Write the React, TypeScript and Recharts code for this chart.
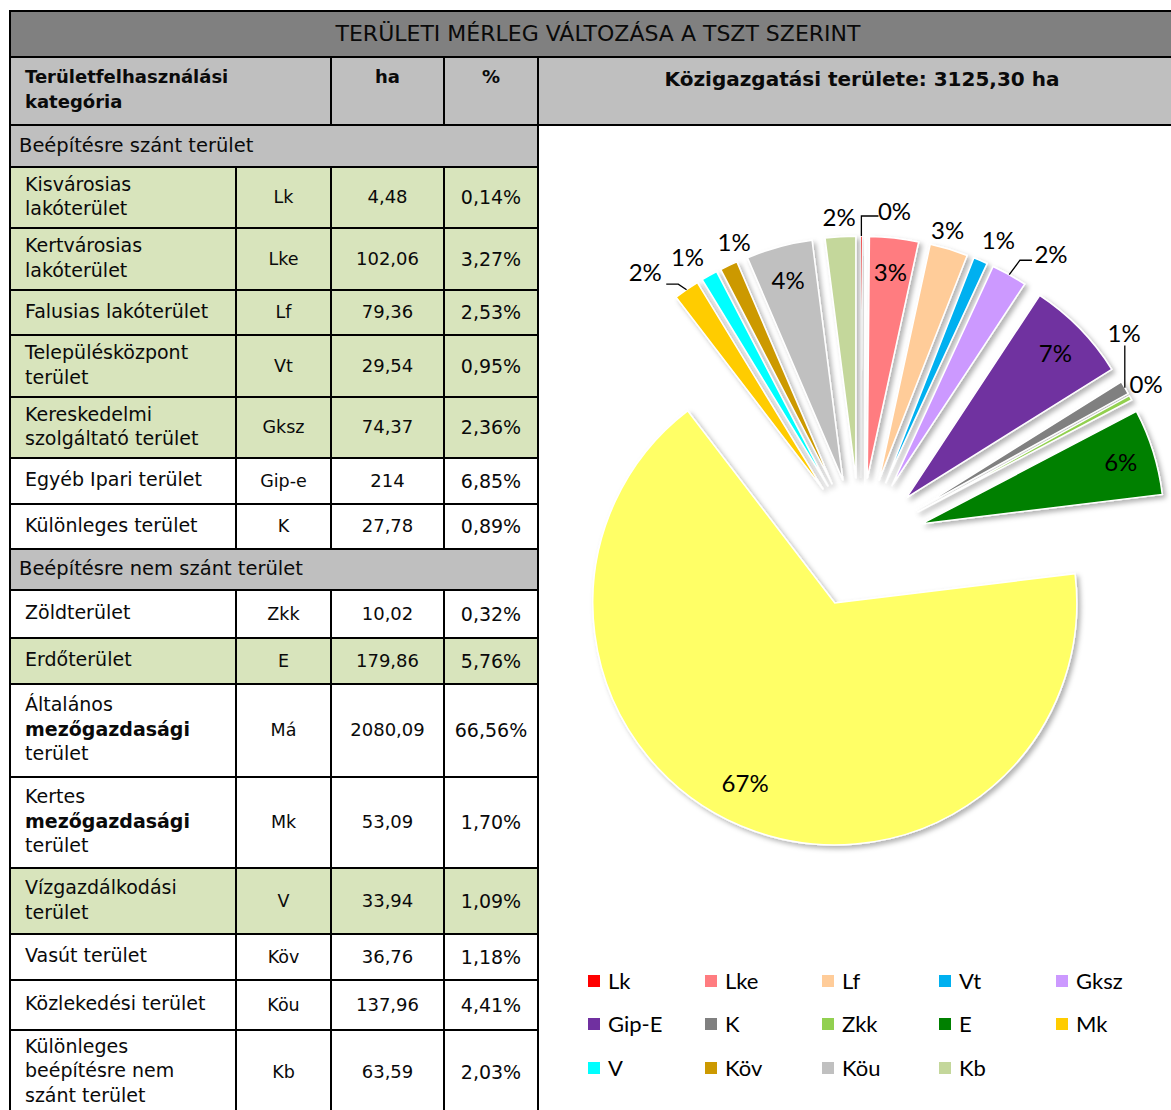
import React from "react";
import { PieChart, Pie, Cell, Legend, Sector } from "recharts";

// pie series, clockwise from 12 o'clock
const PIE_CODES = ["Lk", "Lke", "Lf", "Vt", "Gksz", "Gip-E", "K", "Zkk", "E", "Má", "Mk", "V", "Köv", "Köu", "Kb"];
const PIE_HA = [4.48, 102.06, 79.36, 29.54, 74.37, 214, 27.78, 10.02, 179.86, 2080.09, 53.09, 33.94, 36.76, 137.96, 63.59];
const PIE_COLORS = [
  "#FF0000", "#FF7C80", "#FFCC99", "#00B0F0", "#CC99FF",
  "#7030A0", "#808080", "#92D050", "#008000", "#FFFF66",
  "#FFCC00", "#00FFFF", "#CC9900", "#C0C0C0", "#C4D79B",
];
const LEGEND_HIDDEN = ["Má"];

// table texts
const TITLE = "TERÜLETI MÉRLEG VÁLTOZÁSA A TSZT SZERINT";
const HEAD_CATEGORY = ["Területfelhasználási", "kategória"];
const HEAD_HA = "ha";
const HEAD_PCT = "%";
const TOTAL_TEXT = "Közigazgatási területe: 3125,30 ha";
const SECTIONS = ["Beépítésre szánt terület", "Beépítésre nem szánt terület"];
const ROW_SECTION = [0, 0, 0, 0, 0, 0, 0, 1, 1, 1, 1, 1, 1, 1, 1];
const ROW_NAMES = [
  ["Kisvárosias", "lakóterület"],
  ["Kertvárosias", "lakóterület"],
  ["Falusias lakóterület"],
  ["Településközpont", "terület"],
  ["Kereskedelmi", "szolgáltató terület"],
  ["Egyéb Ipari terület"],
  ["Különleges terület"],
  ["Zöldterület"],
  ["Erdőterület"],
  ["Általános", "mezőgazdasági", "terület"],
  ["Kertes", "mezőgazdasági", "terület"],
  ["Vízgazdálkodási", "terület"],
  ["Vasút terület"],
  ["Közlekedési terület"],
  ["Különleges", "beépítésre nem", "szánt terület"],
];
const ROW_CODES = ["Lk", "Lke", "Lf", "Vt", "Gksz", "Gip-e", "K", "Zkk", "E", "Má", "Mk", "V", "Köv", "Köu", "Kb"];
const ROW_HA = ["4,48", "102,06", "79,36", "29,54", "74,37", "214", "27,78", "10,02", "179,86", "2080,09", "53,09", "33,94", "36,76", "137,96", "63,59"];
const ROW_PCT = ["0,14%", "3,27%", "2,53%", "0,95%", "2,36%", "6,85%", "0,89%", "0,32%", "5,76%", "66,56%", "1,70%", "1,09%", "1,18%", "4,41%", "2,03%"];
const ROW_GREEN = [true, true, true, true, true, false, false, false, true, false, false, true, false, false, false];
const BOLD_LINES = ["mezőgazdasági"];

// layout
const COL_X = [10, 236, 331, 444, 538, 1186];
const SECTION_H = [42, 41];
const ROW_H = [61, 62, 45, 62, 61, 46, 45, 48, 46, 93, 91, 66, 46, 50, 84];
const GREEN = "#D8E4BC";
const GRAY = "#BFBFBF";
const DARK = "#808080";
const TABLE_FONT = "'DejaVu Sans', sans-serif";
const CHART_FONT = "Lato, 'Open Sans', sans-serif";

const RAD = Math.PI / 180;
const EXPLODE = 65;
const LABEL_NUDGE: Record<string, [number, number]> = {
  Lk: [33, -6],
  Lf: [-7, -1],
  Vt: [10, -3],
  Gksz: [32, -4],
  K: [-18, -45],
  Zkk: [-2, -5],
  Mk: [-30, -2],
  V: [-12, -2],
  Köv: [14, -6],
  Má: [-9, -12],
};

const polar = (cx: number, cy: number, r: number, a: number) => [
  cx + r * Math.cos(-a * RAD),
  cy + r * Math.sin(-a * RAD),
];

function Box({ x1, x2, y1, y2, bg, children, style }: any) {
  return (
    <div
      style={{
        position: "absolute",
        left: x1 - 1,
        top: y1 - 1,
        width: x2 - x1 + 2,
        height: y2 - y1 + 2,
        border: "2px solid #000",
        boxSizing: "border-box",
        background: bg,
        display: "flex",
        whiteSpace: "nowrap",
        ...style,
      }}
    >
      {children}
    </div>
  );
}

function Lines({ lines }: { lines: string[] }) {
  return (
    <div>
      {lines.map((l) => (
        <div key={l} style={{ fontWeight: BOLD_LINES.includes(l) ? 600 : "normal" }}>
          {l}
        </div>
      ))}
    </div>
  );
}

function ExplodedSlice(props: any) {
  const { cx, cy, midAngle, innerRadius, outerRadius, startAngle, endAngle, fill } = props;
  const [x, y] = polar(cx, cy, EXPLODE, midAngle);
  return (
    <g filter="url(#sliceShadow)">
      <Sector
        cx={x}
        cy={y}
        innerRadius={innerRadius}
        outerRadius={outerRadius}
        startAngle={startAngle}
        endAngle={endAngle}
        fill={fill}
        stroke="#fff"
        strokeWidth={1.5}
      />
    </g>
  );
}

function SliceLabel(props: any) {
  const { cx, cy, midAngle, outerRadius, percent, index } = props;
  const code = PIE_CODES[index];
  const [ex, ey] = polar(cx, cy, EXPLODE, midAngle);
  const inside = percent > 0.03;
  const [bx, by] = polar(ex, ey, inside ? outerRadius * 0.86 : outerRadius + 20, midAngle);
  const [nx, ny] = LABEL_NUDGE[code] || [0, 0];
  const lx = bx + nx;
  const ly = by + ny;
  const [ax, ay] = polar(ex, ey, outerRadius, midAngle);
  let leader: string | null = null;
  if (code === "Lk") leader = `${ax},${ay} ${ax},${ly + 6} ${lx - 16},${ly + 6}`;
  if (code === "Gksz") leader = `${ax},${ay} ${lx - 31},${ly + 7} ${lx - 19},${ly + 7}`;
  if (code === "Mk") leader = `${ax},${ay} ${lx + 33},${ly + 13} ${lx + 21},${ly + 13}`;
  if (code === "K") leader = `${ax},${ay} ${ax},${ly + 13}`;
  return (
    <g>
      {leader && <polyline points={leader} fill="none" stroke="#000" strokeWidth={1.3} />}
      <text
        x={lx}
        y={ly}
        textAnchor="middle"
        dominantBaseline="central"
        fontSize={24}
        fontFamily={CHART_FONT}
        fill="#000"
      >
        {`${Math.round(percent * 100)}%`}
      </text>
    </g>
  );
}

function LegendGrid(props: any) {
  const items = (props.payload || [])
    .filter((p: any) => !LEGEND_HIDDEN.includes(p.value))
    .sort((a: any, b: any) => PIE_CODES.indexOf(a.value) - PIE_CODES.indexOf(b.value));
  return (
    <div
      style={{
        display: "grid",
        gridTemplateColumns: "repeat(5, 117px)",
        gridAutoRows: "43.5px",
        fontFamily: CHART_FONT,
        fontSize: 22,
        color: "#000",
      }}
    >
      {items.map((p: any) => (
        <div key={p.value} style={{ display: "flex", alignItems: "center" }}>
          <span
            style={{
              width: 12,
              height: 12,
              marginRight: 8,
              background: PIE_COLORS[PIE_CODES.indexOf(p.value)],
            }}
          />
          {p.value}
        </div>
      ))}
    </div>
  );
}

export default function App() {
  const data = PIE_CODES.map((name, i) => ({ name, value: PIE_HA[i] }));

  // table body rows
  const rows: React.ReactNode[] = [];
  let y = 125;
  ROW_NAMES.forEach((lines, i) => {
    if (i === 0 || ROW_SECTION[i] !== ROW_SECTION[i - 1]) {
      const s = ROW_SECTION[i];
      rows.push(
        <Box key={`s${s}`} x1={COL_X[0]} x2={COL_X[4]} y1={y} y2={y + SECTION_H[s]} bg={GRAY}
          style={{ alignItems: "center", paddingLeft: 8, fontSize: 19.5 }}>
          {SECTIONS[s]}
        </Box>
      );
      y += SECTION_H[s];
    }
    const y2 = y + ROW_H[i];
    const bg = ROW_GREEN[i] ? GREEN : "#fff";
    const center = { alignItems: "center", justifyContent: "center" };
    rows.push(
      <React.Fragment key={`r${i}`}>
        <Box x1={COL_X[0]} x2={COL_X[1]} y1={y} y2={y2} bg={bg}
          style={{ alignItems: "center", paddingLeft: 14, paddingBottom: 3, fontSize: 19 }}>
          <Lines lines={lines} />
        </Box>
        <Box x1={COL_X[1]} x2={COL_X[2]} y1={y} y2={y2} bg={bg} style={center}>{ROW_CODES[i]}</Box>
        <Box x1={COL_X[2]} x2={COL_X[3]} y1={y} y2={y2} bg={bg} style={{ ...center, fontSize: 18 }}>{ROW_HA[i]}</Box>
        <Box x1={COL_X[3]} x2={COL_X[4]} y1={y} y2={y2} bg={bg} style={{ ...center, fontSize: 19 }}>{ROW_PCT[i]}</Box>
      </React.Fragment>
    );
    y = y2;
  });

  return (
    <div
      style={{
        position: "absolute",
        left: 0,
        top: 0,
        width: 1171,
        height: 1110,
        overflow: "hidden",
        background: "#fff",
        fontFamily: TABLE_FONT,
        fontSize: 17.5,
        lineHeight: "24.5px",
        color: "#0a0a0a",
      }}
    >
      <svg width="0" height="0" style={{ position: "absolute" }}>
        <defs>
          <filter id="sliceShadow" x="-30%" y="-30%" width="160%" height="160%">
            <feDropShadow dx="3" dy="3" stdDeviation="2.5" floodColor="#000" floodOpacity="0.3" />
          </filter>
        </defs>
      </svg>

      <Box x1={COL_X[0]} x2={COL_X[5]} y1={11} y2={57} bg={DARK}
        style={{ alignItems: "center", justifyContent: "center", fontSize: 22 }}>
        {TITLE}
      </Box>
      <Box x1={COL_X[0]} x2={COL_X[2]} y1={57} y2={125} bg={GRAY}
        style={{ paddingLeft: 14, paddingTop: 7, fontWeight: "bold", fontSize: 18 }}>
        <div>{HEAD_CATEGORY.map((l) => <div key={l}>{l}</div>)}</div>
      </Box>
      <Box x1={COL_X[2]} x2={COL_X[3]} y1={57} y2={125} bg={GRAY}
        style={{ justifyContent: "center", paddingTop: 7, fontWeight: "bold", fontSize: 18 }}>
        {HEAD_HA}
      </Box>
      <Box x1={COL_X[3]} x2={COL_X[4]} y1={57} y2={125} bg={GRAY}
        style={{ justifyContent: "center", paddingTop: 7, fontWeight: "bold", fontSize: 18 }}>
        {HEAD_PCT}
      </Box>
      <Box x1={COL_X[4]} x2={COL_X[5]} y1={57} y2={125} bg={GRAY}
        style={{ justifyContent: "center", paddingTop: 9, fontWeight: "bold", fontSize: 20 }}>
        {TOTAL_TEXT}
      </Box>
      {rows}

      <div style={{ position: "absolute", left: 540, top: 127 }}>
        <PieChart width={631} height={983} margin={{ top: 0, right: 0, bottom: 0, left: 0 }}>
          <Pie
            data={data}
            dataKey="value"
            nameKey="name"
            cx={320}
            cy={416}
            outerRadius={242}
            startAngle={90}
            endAngle={-270}
            stroke="#fff"
            strokeWidth={1.5}
            shape={ExplodedSlice}
            activeShape={ExplodedSlice}
            inactiveShape={ExplodedSlice}
            label={SliceLabel}
            labelLine={false}
            isAnimationActive={false}
          >
            {data.map((d, i) => (
              <Cell key={d.name} fill={PIE_COLORS[i]} />
            ))}
          </Pie>
          <Legend
            verticalAlign="bottom"
            content={LegendGrid}
            wrapperStyle={{ left: 48, bottom: 20, width: 590, height: 131 }}
          />
        </PieChart>
      </div>
    </div>
  );
}
